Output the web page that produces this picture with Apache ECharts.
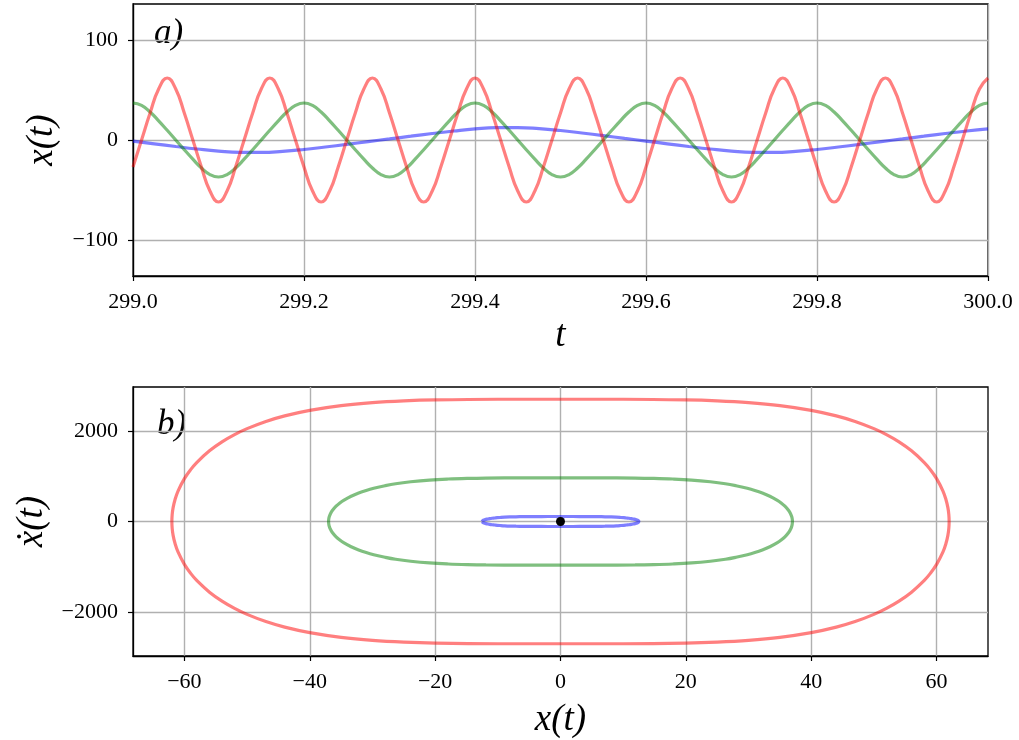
<!DOCTYPE html>
<html lang="en">
<head>
    <meta charset="UTF-8">
    <title>Oscillator</title>
    <script src="https://cdn.jsdelivr.net/npm/echarts@6/dist/echarts.min.js"></script>
</head>
<style>
    html,body{
        margin:0;
        padding:0;
        background:#fff;
    }
    #chart{
        width:1019px;
        height:740px;
    }
</style>
<body>
    <div id="chart"></div>
    <script>
        // a) time series
        var tFast=[
            299.00,299.01,299.02,299.03,299.04,299.05,299.06,299.07,299.08,299.09,
            299.10,299.11,299.12,299.13,299.14,299.15,299.16,299.17,299.18,299.19,
            299.20,299.21,299.22,299.23,299.24,299.25,299.26,299.27,299.28,299.29,
            299.30,299.31,299.32,299.33,299.34,299.35,299.36,299.37,299.38,299.39,
            299.40,299.41,299.42,299.43,299.44,299.45,299.46,299.47,299.48,299.49,
            299.50,299.51,299.52,299.53,299.54,299.55,299.56,299.57,299.58,299.59,
            299.60,299.61,299.62,299.63,299.64,299.65,299.66,299.67,299.68,299.69,
            299.70,299.71,299.72,299.73,299.74,299.75,299.76,299.77,299.78,299.79,
            299.80,299.81,299.82,299.83,299.84,299.85,299.86,299.87,299.88,299.89,
            299.90,299.91,299.92,299.93,299.94,299.95,299.96,299.97,299.98,299.99,
            300.00
        ];
        var redX=[
            -27,0,27,51,62,51,27,0,-27,-51,-62,-51,
            -27,0,27,51,62,51,27,0,-27,-51,-62,-51,
            -27,0,27,51,62,51,27,0,-27,-51,-62,-51,
            -27,0,27,51,62,51,27,0,-27,-51,-62,-51,
            -27,0,27,51,62,51,27,0,-27,-51,-62,-51,
            -27,0,27,51,62,51,27,0,-27,-51,-62,-51,
            -27,0,27,51,62,51,27,0,-27,-51,-62,-51,
            -27,0,27,51,62,51,27,0,-27,-51,-62,-51,
            -27,0,27,51,62
        ];
        var greenX=[
            37,34.6,28,19.2,9.7,0,-9.7,-19.2,-28,-34.6,-37,-34.6,-28,-19.2,-9.7,0,9.7,19.2,28,34.6,
            37,34.6,28,19.2,9.7,0,-9.7,-19.2,-28,-34.6,-37,-34.6,-28,-19.2,-9.7,0,9.7,19.2,28,34.6,
            37,34.6,28,19.2,9.7,0,-9.7,-19.2,-28,-34.6,-37,-34.6,-28,-19.2,-9.7,0,9.7,19.2,28,34.6,
            37,34.6,28,19.2,9.7,0,-9.7,-19.2,-28,-34.6,-37,-34.6,-28,-19.2,-9.7,0,9.7,19.2,28,34.6,
            37,34.6,28,19.2,9.7,0,-9.7,-19.2,-28,-34.6,-37,-34.6,-28,-19.2,-9.7,0,9.7,19.2,28,34.6,
            37
        ];
        var tBlue=[
            299.000,299.025,299.050,299.075,299.100,299.125,299.150,299.175,299.200,299.225,
            299.250,299.275,299.300,299.325,299.350,299.375,299.400,299.425,299.450,299.475,
            299.500,299.525,299.550,299.575,299.600,299.625,299.650,299.675,299.700,299.725,
            299.750,299.775,299.800,299.825,299.850,299.875,299.900,299.925,299.950,299.975,
            300.000
        ];
        var blueX=[
            -1.1,-3.8,-6.5,-9.0,-11.1,-12.3,-12.4,-11.4,-9.5,-7.0,-4.4,-1.6,
            1.1,3.8,6.5,9.0,11.1,12.3,12.4,11.4,9.5,7.0,4.4,1.6,
            -1.1,-3.8,-6.5,-9.0,-11.1,-12.3,-12.4,-11.4,-9.5,-7.0,-4.4,-1.6,
            1.1,3.8,6.5,9.0,11.1
        ];

        // b) phase portraits, one quarter each (x from turning point to 0, velocity >= 0)
        var redPx=[62,61.95,61.8,61.5,61,60,59,58,56,54,52,50,47,44,40,35,30,25,20,10,0];
        var redPv=[0,153,306,482,678,947,1146,1307,1561,1759,1919,2051,2210,2333,2455,2559,2625,2664,2685,2699,2700];
        var greenPx=[37,36.97,36.88,36.7,36.4,35.8,35.2,34.6,33.4,32.2,31,29.8,28,26.3,23.9,20.9,17.9,14.9,11.9,6,0];
        var greenPv=[0,55,109,172,242,338,409,467,558,629,686,733,790,834,877,915,938,952,960,965,965];
        var bluePx=[12.5,12.49,12.46,12.4,12.3,12.1,11.9,11.7,11.3,10.9,10.5,10.1,9.5,8.9,8.1,7.1,6,5,4,2,0];
        var bluePv=[0,6,12,20,28,39,47,53,64,72,78,84,90,95,100,104,107,109,109,110,110];
        var fixedPoint=[[0,0]];

        // ticks
        var tTicks=[299.0,299.2,299.4,299.6,299.8,300.0];
        var xTicksA=[-100,0,100];
        var xTicksB=[-60,-40,-20,0,20,40,60];
        var vTicksB=[-2000,0,2000];

        var RED='rgba(255,0,0,0.5)';
        var GREEN='rgba(0,128,0,0.5)';
        var BLUE='rgba(0,0,255,0.5)';
        var SERIF="'Liberation Serif','DejaVu Serif',serif";

        function zip(a,b){
            var out=[];
            for(var i=0;i<a.length;i++){
                out.push([a[i],b[i]]);
            }
            return out;
        }
        // mirror a quarter into the closed orbit
        function orbit(qx,qv){
            var pts=[];
            var n=qx.length;
            for(var i=0;i<n;i++) pts.push([-qx[i],qv[i]]);
            for(var i=n-2;i>=0;i--) pts.push([qx[i],qv[i]]);
            for(var i=1;i<n;i++) pts.push([qx[i],-qv[i]]);
            for(var i=n-2;i>=0;i--) pts.push([-qx[i],-qv[i]]);
            return pts;
        }
        function minus(v){
            return String(v).replace('-','\u2212');
        }

        function valueAxis(grid,min,max,ticks,fmt,name,gap,isY){
            return {
                type:'value',
                gridIndex:grid,
                min:min,
                max:max,
                name:name,
                nameLocation:'middle',
                nameGap:gap,
                nameRotate:isY?90:0,
                nameTextStyle:{
                    fontFamily:SERIF,
                    fontStyle:'italic',
                    fontSize:37,
                    color:'#000'
                },
                axisLine:{show:true,onZero:false,lineStyle:{color:'#000',width:1.3}},
                axisTick:{show:true,inside:false,length:5,customValues:ticks,lineStyle:{color:'#000',width:1.2}},
                axisLabel:{
                    customValues:ticks,
                    margin:isY?15:15,
                    fontFamily:SERIF,
                    fontSize:22,
                    color:'#000',
                    formatter:fmt
                },
                splitLine:{show:true,lineStyle:{color:'#b0b0b0',width:1.4}}
            };
        }

        var chart=echarts.init(document.getElementById('chart'));
        var option={
            animation:false,
            backgroundColor:'#fff',
            grid:[
                {left:133,top:4,width:855,height:272,show:true,borderColor:'#000',borderWidth:1.3,backgroundColor:'transparent'},
                {left:133,top:387,width:855,height:272,show:true,borderColor:'#000',borderWidth:1.3,backgroundColor:'transparent'}
            ],
            xAxis:[
                valueAxis(0,299,300,tTicks,function(v){return v.toFixed(1);},'t',42,false),
                valueAxis(1,-68.2,68.2,xTicksB,minus,'x(t)',46,false)
            ],
            yAxis:[
                valueAxis(0,-136,136,xTicksA,minus,'x(t)',72,true),
                valueAxis(1,-2970,2970,vTicksB,minus,'\u1E8B(t)',72,true)
            ],
            graphic:[
                {type:'text',left:154,top:16,style:{text:'a)',fill:'#000',font:"italic 35px 'Liberation Serif'"}},
                {type:'text',left:157,top:407,style:{text:'b)',fill:'#000',font:"italic 35px 'Liberation Serif'"}}
            ],
            series:[
                {type:'line',xAxisIndex:0,yAxisIndex:0,data:zip(tBlue,blueX),smooth:true,showSymbol:false,lineStyle:{color:BLUE,width:3.2}},
                {type:'line',xAxisIndex:0,yAxisIndex:0,data:zip(tFast,greenX),smooth:true,showSymbol:false,lineStyle:{color:GREEN,width:3.2}},
                {type:'line',xAxisIndex:0,yAxisIndex:0,data:zip(tFast,redX),smooth:true,showSymbol:false,lineStyle:{color:RED,width:3.2}},
                {type:'line',xAxisIndex:1,yAxisIndex:1,data:orbit(redPx,redPv),smooth:0.4,showSymbol:false,lineStyle:{color:RED,width:3.2}},
                {type:'line',xAxisIndex:1,yAxisIndex:1,data:orbit(greenPx,greenPv),smooth:0.4,showSymbol:false,lineStyle:{color:GREEN,width:3.2}},
                {type:'line',xAxisIndex:1,yAxisIndex:1,data:orbit(bluePx,bluePv),smooth:0.4,showSymbol:false,lineStyle:{color:BLUE,width:3.2}},
                {type:'scatter',xAxisIndex:1,yAxisIndex:1,data:fixedPoint,symbolSize:9,itemStyle:{color:'#000',opacity:1},z:5}
            ]
        };
        chart.setOption(option);
    </script>
</body>
</html>
